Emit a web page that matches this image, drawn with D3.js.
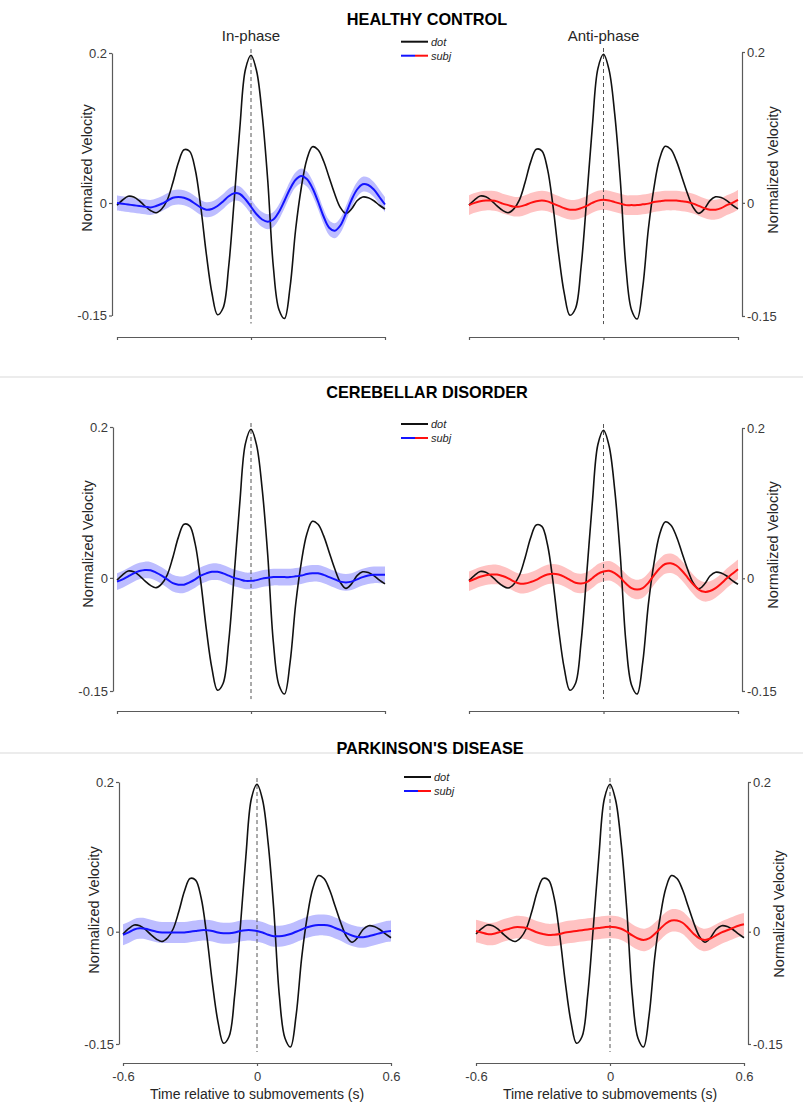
<!DOCTYPE html>
<html>
<head>
<meta charset="utf-8">
<script src="https://cdn.jsdelivr.net/npm/d3@7/dist/d3.min.js"></script>
<style>
  html, body { margin: 0; padding: 0; background: #fff; }
  svg { display: block; font-family: "Liberation Sans", Arial, sans-serif; }
</style>
</head>
<body>
<svg id="chart" width="803" height="1107"></svg>
<script>
// ---------------- DATA ----------------
const groups = ["HEALTHY CONTROL", "CEREBELLAR DISORDER", "PARKINSON'S DISEASE"];
const conditions = ["In-phase", "Anti-phase"];
const xTicks = [-0.6, 0, 0.6];
const xTickLabels = ["-0.6", "0", "0.6"];
const yTicks = [-0.15, 0, 0.2];
const yTickLabels = ["-0.15", "0", "0.2"];
const legendLabels = ["dot", "subj"];
const xAxisTitle = "Time relative to submovements (s)";
const yAxisTitle = "Normalized Velocity";

// sample times (s), every 0.025 s from -0.6 to 0.6
const sampleTimes = [-0.6,-0.575,-0.55,-0.525,-0.5,-0.475,-0.45,-0.425,-0.4,-0.375,-0.35,-0.325,-0.3,-0.275,-0.25,-0.225,-0.2,-0.175,-0.15,-0.125,-0.1,-0.075,-0.05,-0.025,0,0.025,0.05,0.075,0.1,0.125,0.15,0.175,0.2,0.225,0.25,0.275,0.3,0.325,0.35,0.375,0.4,0.425,0.45,0.475,0.5,0.525,0.55,0.575,0.6];

// dot (target) velocity
const dotVelocity = [-0.003,0.004,0.009,0.008,0.003,-0.004,-0.010,-0.013,-0.008,0.004,0.027,0.054,0.071,0.069,0.045,-0.005,-0.068,-0.120,-0.149,-0.140,-0.085,0.005,0.100,0.178,0.197,0.176,0.118,0.030,-0.085,-0.142,-0.154,-0.112,-0.035,0.020,0.058,0.075,0.071,0.056,0.034,0.012,-0.006,-0.014,-0.008,0.003,0.008,0.007,0.003,-0.003,-0.008];

// subject velocity (mean)
const hcInPhase   = [0.000,-0.001,-0.002,-0.003,-0.004,-0.005,-0.006,-0.004,-0.001,0.003,0.007,0.008,0.007,0.004,-0.001,-0.006,-0.009,-0.008,-0.004,0.002,0.009,0.013,0.012,0.005,-0.005,-0.015,-0.022,-0.025,-0.022,-0.012,0.003,0.019,0.031,0.036,0.032,0.020,0.002,-0.018,-0.033,-0.037,-0.030,-0.014,0.004,0.018,0.025,0.024,0.018,0.008,-0.002];
const hcAntiPhase = [-0.003,0.000,0.002,0.003,0.003,0.002,-0.001,-0.003,-0.005,-0.005,-0.003,0.000,0.002,0.003,0.002,-0.001,-0.004,-0.007,-0.009,-0.009,-0.007,-0.004,0.000,0.003,0.004,0.003,0.001,-0.001,-0.003,-0.003,-0.003,-0.002,-0.001,0.001,0.002,0.003,0.003,0.003,0.002,0.001,-0.001,-0.004,-0.007,-0.009,-0.009,-0.007,-0.003,0.000,0.004];
const cdInPhase   = [-0.005,-0.002,0.002,0.006,0.009,0.0105,0.010,0.007,0.003,-0.002,-0.007,-0.009,-0.009,-0.006,-0.002,0.003,0.006,0.008,0.008,0.006,0.003,0.000,-0.002,-0.004,-0.004,-0.003,-0.001,0.000,0.001,0.001,0.001,0.001,0.002,0.003,0.005,0.006,0.006,0.004,0.001,-0.002,-0.005,-0.006,-0.005,-0.002,0.001,0.003,0.004,0.004,0.004];
const cdAntiPhase = [-0.004,-0.001,0.002,0.004,0.005,0.005,0.003,0.000,-0.004,-0.007,-0.007,-0.005,-0.002,0.002,0.005,0.006,0.005,0.002,-0.002,-0.006,-0.007,-0.005,0.000,0.006,0.009,0.010,0.007,0.001,-0.007,-0.013,-0.015,-0.013,-0.006,0.004,0.013,0.019,0.020,0.017,0.010,0.001,-0.008,-0.015,-0.018,-0.017,-0.013,-0.007,0.000,0.006,0.012];
const pdInPhase   = [-0.004,-0.001,0.003,0.0045,0.004,0.002,0.000,-0.001,-0.001,-0.001,-0.001,-0.001,0.000,0.001,0.002,0.002,0.001,-0.001,-0.002,-0.002,-0.001,0.001,0.002,0.002,0.001,-0.001,-0.004,-0.006,-0.006,-0.005,-0.003,0.000,0.003,0.006,0.008,0.009,0.009,0.008,0.005,0.002,-0.002,-0.005,-0.007,-0.0075,-0.006,-0.004,-0.002,0.000,0.001];
const pdAntiPhase = [0.001,-0.001,-0.003,-0.003,-0.001,0.002,0.004,0.006,0.006,0.005,0.002,-0.001,-0.003,-0.0045,-0.004,-0.003,-0.001,0.000,0.001,0.002,0.003,0.004,0.005,0.006,0.0067,0.006,0.004,0.000,-0.005,-0.009,-0.011,-0.009,-0.003,0.004,0.011,0.015,0.015,0.012,0.005,-0.003,-0.009,-0.011,-0.009,-0.005,-0.001,0.002,0.005,0.008,0.010];

// shaded band half-width (s.e.m.) per panel
const semHalfWidth = [0.010, 0.013, 0.011, 0.013, 0.014, 0.015];

const subjSeries = [hcInPhase, hcAntiPhase, cdInPhase, cdAntiPhase, pdInPhase, pdAntiPhase];

// ---------------- LAYOUT ----------------
const panelLayout = [
  {x0:117, x1:385, yTop:53,  yBot:315.5, axisX:112, axisY:337,  side:"left",  labelY:168},
  {x0:469, x1:738, yTop:52,  yBot:316,   axisX:742, axisY:337,  side:"right", labelY:170},
  {x0:117, x1:385, yTop:427, yBot:691,   axisX:113, axisY:711,  side:"left",  labelY:544},
  {x0:469, x1:738, yTop:428, yBot:691,   axisX:742, axisY:711,  side:"right", labelY:545},
  {x0:123, x1:391, yTop:782, yBot:1044,  axisX:119, axisY:1063, side:"left",  labelY:910},
  {x0:476, x1:744, yTop:782, yBot:1044,  axisX:748, axisY:1063, side:"right", labelY:914}
];
const titleLayout = [ {x:427, y:25}, {x:427, y:398}, {x:430, y:754} ];
const separatorY = [377, 753];
const legendLayout = [ {x:401, y:41.7}, {x:401, y:424}, {x:404, y:777} ];

const colors = {
  dot: "#111111",
  inLine: "#1414ff", inBand: "#bdbdff",
  antiLine: "#ff1010", antiBand: "#ffc2c2",
  axis: "#5a5a5a", tickText: "#3a3a3a", text: "#262626"
};

// ---------------- DRAW ----------------
const svg = d3.select("#chart");

// separators
svg.selectAll("line.sep").data(separatorY).enter().append("line")
  .attr("x1", 0).attr("x2", 803).attr("y1", d => d).attr("y2", d => d)
  .attr("stroke", "#ececec").attr("stroke-width", 2);

// group titles
svg.selectAll("text.title").data(groups).enter().append("text")
  .attr("x", (d, i) => titleLayout[i].x).attr("y", (d, i) => titleLayout[i].y)
  .attr("text-anchor", "middle").attr("font-weight", "bold").attr("font-size", 16.3)
  .attr("fill", "#000").text(d => d);

panelLayout.forEach((L, p) => {
  const row = Math.floor(p / 2), col = p % 2;
  const isIn = col === 0;
  const x = d3.scaleLinear().domain([-0.6, 0.6]).range([L.x0, L.x1]);
  const y = d3.scaleLinear().domain([-0.15, 0.2]).range([L.yBot, L.yTop]);
  const g = svg.append("g");

  const subj = subjSeries[p];
  const sem = semHalfWidth[p];
  const pts = sampleTimes.map((t, i) => ({t, dot: dotVelocity[i], s: subj[i]}));

  // band
  const area = d3.area().curve(d3.curveCatmullRom.alpha(0.5))
    .x(d => x(d.t)).y0(d => y(d.s - sem)).y1(d => y(d.s + sem));
  g.append("path").datum(pts).attr("d", area)
    .attr("fill", isIn ? colors.inBand : colors.antiBand).attr("stroke", "none");

  // zero dashed line
  g.append("line")
    .attr("x1", x(0)).attr("x2", x(0))
    .attr("y1", y(0.2053)).attr("y2", y(-0.1607))
    .attr("stroke", "#555").attr("stroke-width", 1).attr("stroke-dasharray", "4,3");

  // dot line
  const lineDot = d3.line().curve(d3.curveCatmullRom.alpha(0.5)).x(d => x(d.t)).y(d => y(d.dot));
  g.append("path").datum(pts).attr("d", lineDot)
    .attr("fill", "none").attr("stroke", colors.dot).attr("stroke-width", 1.6);

  // subj line
  const lineSubj = d3.line().curve(d3.curveCatmullRom.alpha(0.5)).x(d => x(d.t)).y(d => y(d.s));
  g.append("path").datum(pts).attr("d", lineSubj)
    .attr("fill", "none").attr("stroke", isIn ? colors.inLine : colors.antiLine).attr("stroke-width", 2);

  // y axis
  const yAxis = (L.side === "left" ? d3.axisLeft(y) : d3.axisRight(y))
    .tickValues(yTicks).tickFormat((d, i) => yTickLabels[i])
    .tickSizeInner(3).tickSizeOuter(0).tickPadding(2);
  const ya = g.append("g").attr("transform", `translate(${L.axisX},0)`).call(yAxis);
  ya.select(".domain").attr("stroke", colors.axis).attr("stroke-width", 1.2);
  ya.selectAll(".tick line").attr("stroke", colors.axis).attr("stroke-width", 1.2);
  ya.selectAll(".tick text").attr("fill", colors.tickText).attr("font-size", 13)
    .attr("font-family", "Liberation Sans, Arial, sans-serif");

  // x axis
  const isBottom = row === 2;
  const xAxis = d3.axisBottom(x).tickValues(xTicks)
    .tickFormat((d, i) => isBottom ? xTickLabels[i] : "")
    .tickSizeInner(3).tickSizeOuter(0).tickPadding(6);
  const xa = g.append("g").attr("transform", `translate(0,${L.axisY})`).call(xAxis);
  xa.select(".domain").attr("stroke", colors.axis).attr("stroke-width", 1.2);
  xa.selectAll(".tick line").attr("stroke", colors.axis).attr("stroke-width", 1.2);
  xa.selectAll(".tick text").attr("fill", colors.tickText).attr("font-size", 13)
    .attr("font-family", "Liberation Sans, Arial, sans-serif");

  if (isBottom) {
    g.append("text").attr("x", x(0)).attr("y", 1099)
      .attr("text-anchor", "middle").attr("font-size", 14).attr("fill", colors.text)
      .text(xAxisTitle);
  }

  // y axis title
  const lx = L.side === "left" ? L.axisX - 25 : L.axisX + 31;
  g.append("text")
    .attr("transform", `translate(${lx},${L.labelY}) rotate(-90)`)
    .attr("text-anchor", "middle").attr("dominant-baseline", "central")
    .attr("font-size", 14.5).attr("fill", colors.text).text(yAxisTitle);

  // condition subtitle (top row only)
  if (row === 0) {
    g.append("text").attr("x", x(0)).attr("y", 41)
      .attr("text-anchor", "middle").attr("font-size", 15).attr("fill", colors.text)
      .text(conditions[col]);
  }
});

// legends
legendLayout.forEach(L => {
  const g = svg.append("g");
  g.append("line").attr("x1", L.x).attr("x2", L.x + 27).attr("y1", L.y).attr("y2", L.y)
    .attr("stroke", colors.dot).attr("stroke-width", 2);
  g.append("line").attr("x1", L.x).attr("x2", L.x + 14).attr("y1", L.y + 14).attr("y2", L.y + 14)
    .attr("stroke", colors.inLine).attr("stroke-width", 2);
  g.append("line").attr("x1", L.x + 14).attr("x2", L.x + 27).attr("y1", L.y + 14).attr("y2", L.y + 14)
    .attr("stroke", colors.antiLine).attr("stroke-width", 2);
  g.selectAll("text").data(legendLabels).enter().append("text")
    .attr("x", L.x + 30).attr("y", (d, i) => L.y + i * 14)
    .attr("dominant-baseline", "central").attr("font-style", "italic")
    .attr("font-size", 11).attr("fill", colors.text).text(d => d);
});
</script>
</body>
</html>
